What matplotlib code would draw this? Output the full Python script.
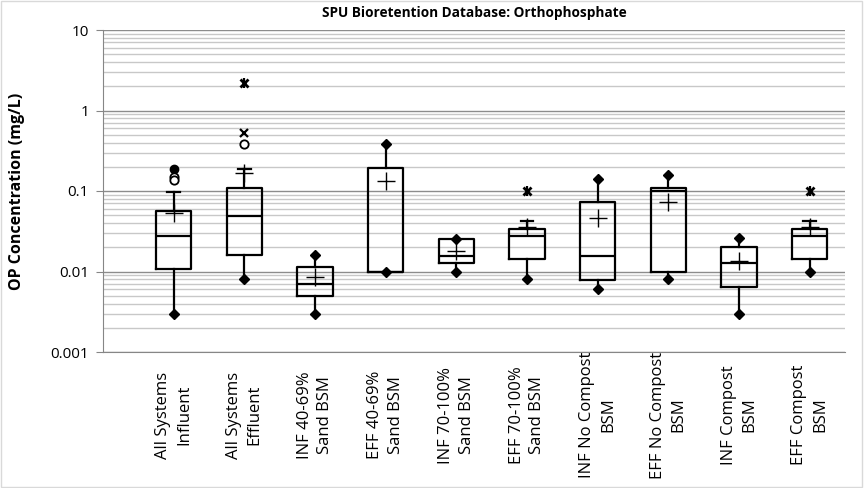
import matplotlib.pyplot as plt
import matplotlib.transforms as mtransforms
from matplotlib.patches import Rectangle

plt.rcParams['font.family'] = ['Open Sans', 'DejaVu Sans']

# Group labels (two lines each, as on the chart)
categories = [
    "All Systems\nInfluent", "All Systems\nEffluent",
    "INF 40-69%\nSand BSM", "EFF 40-69%\nSand BSM",
    "INF 70-100%\nSand BSM", "EFF 70-100%\nSand BSM",
    "INF No Compost\nBSM", "EFF No Compost\nBSM",
    "INF Compost\nBSM", "EFF Compost\nBSM",
]

# Box statistics (mg/L)
whisk_lo = [0.003, 0.008, 0.003, 0.010, 0.010, 0.008, 0.006, 0.008, 0.003, 0.010]
q1 = [0.0106, 0.0159, 0.0049, 0.010, 0.0128, 0.0142, 0.0078, 0.010, 0.0064, 0.0142]
median = [0.0276, 0.049, 0.0069, 0.010, 0.0157, 0.0279, 0.0157, 0.100, 0.0129, 0.0279]
q3 = [0.0565, 0.108, 0.0113, 0.195, 0.0255, 0.0337, 0.0736, 0.110, 0.0203, 0.0337]
whisk_hi = [0.098, 0.19, 0.016, 0.38, 0.0255, 0.042, 0.14, 0.16, 0.026, 0.042]
means = [0.053, 0.165, 0.0085, 0.132, 0.018, 0.036, 0.046, 0.074, 0.0136, 0.036]

# upper whisker ends drawn as a short cap instead of a diamond
capped_top = [True, True, False, False, False, True, False, False, False, True]

# Outliers: group index, value, marker kind
out_group = [0, 0, 0, 1, 1, 1, 5, 9]
out_value = [0.19, 0.15, 0.138, 2.2, 0.52, 0.38, 0.10, 0.10]
out_kind = ['dot', 'ring', 'ring', 'star', 'cross', 'ring', 'star', 'star']

title = "SPU Bioretention Database: Orthophosphate"
ylabel = "OP Concentration (mg/L)"
yticks = [0.001, 0.01, 0.1, 1, 10]
ytick_labels = ["0.001", "0.01", "0.1", "1", "10"]

fig = plt.figure(figsize=(8.64, 4.88), dpi=100)
ax = fig.add_axes([103 / 864, 1 - 352 / 488, 742 / 864, 322 / 488])
positions = list(range(len(categories)))

# Boxes via matplotlib's own box drawer
stats = []
for i in positions:
    stats.append({'whislo': whisk_lo[i], 'q1': q1[i], 'med': median[i],
                  'q3': q3[i], 'whishi': whisk_hi[i], 'fliers': []})
ax.bxp(stats, positions=positions, widths=0.5, showcaps=False, showfliers=False,
       boxprops=dict(color='black', linewidth=1.6),
       medianprops=dict(color='black', linewidth=1.6),
       whiskerprops=dict(color='black', linewidth=1.6), zorder=3)

# Whisker ends
for i in positions:
    ax.plot(i, whisk_lo[i], marker='D', color='black', markersize=5, zorder=4)
    if capped_top[i]:
        ax.plot([i - 0.09, i + 0.09], [whisk_hi[i], whisk_hi[i]], color='black',
                linewidth=1.6, zorder=4)
    else:
        ax.plot(i, whisk_hi[i], marker='D', color='black', markersize=5, zorder=4)

# Means
ax.plot(positions, means, linestyle='none', marker='+', color='black',
        markersize=13, markeredgewidth=1.0, zorder=5)

# Outliers
for g, v, k in zip(out_group, out_value, out_kind):
    if k == 'dot':
        ax.plot(g, v, marker='o', color='black', markersize=6, zorder=5)
    elif k == 'ring':
        ax.plot(g, v, marker='o', markerfacecolor='white', markeredgecolor='black',
                markersize=6, markeredgewidth=1.3, zorder=5)
    elif k == 'cross':
        ax.plot(g, v, marker='x', color='black', markersize=6, markeredgewidth=1.6, zorder=5)
    else:
        ax.plot(g, v, marker='x', color='black', markersize=6, markeredgewidth=2.0, zorder=5)
        ax.plot(g, v, marker='|', color='black', markersize=7, markeredgewidth=1.6, zorder=5)

# Axes, scale and grid
ax.set_yscale('log')
ax.set_ylim(0.001, 10)
ax.set_xlim(-1, 9.5)
ax.set_yticks(yticks)
ax.set_yticklabels(ytick_labels, fontsize=11)
ax.yaxis.set_minor_locator(plt.matplotlib.ticker.LogLocator(base=10, subs=range(2, 10)))
ax.yaxis.set_minor_formatter(plt.NullFormatter())
ax.tick_params(axis='y', which='major', length=5, color='#868686', pad=5)
ax.tick_params(axis='y', which='minor', length=0)
ax.set_xticks([])
ax.grid(True, axis='y', which='major', color='#8c8c8c', linewidth=1.0)
ax.grid(True, axis='y', which='minor', color='#c8c8c8', linewidth=1.0)
ax.set_axisbelow(True)
for side in ['top', 'right']:
    ax.spines[side].set_visible(False)
ax.spines['left'].set_color('#868686')
ax.spines['bottom'].set_color('#868686')

# Category labels centred below the plot
trans = mtransforms.blended_transform_factory(ax.transData, fig.transFigure)
for i, lab in enumerate(categories):
    ax.text(i, 73 / 488, lab, transform=trans, rotation=90, ha='center', va='center',
            multialignment='center', fontsize=12, linespacing=1.4)

fig.text(474 / 864, 1 - 13 / 488, title, ha='center', va='center',
         fontsize=9.8, fontweight='bold')
fig.text(17 / 864, 1 - 191 / 488, ylabel, rotation=90, ha='center', va='center',
         fontsize=11.5, fontweight='bold')

# light frame round the whole chart
fig.patches.append(Rectangle((1 / 864, 1 / 488), 861 / 864, 486 / 488, transform=fig.transFigure,
                             fill=False, edgecolor='#d9d9d9', linewidth=1.0))

fig.savefig('out.png', dpi=100)
print("Chart saved: out.png")
